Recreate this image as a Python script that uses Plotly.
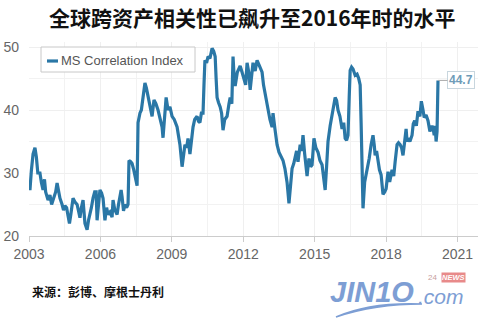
import plotly.graph_objects as go

# MS Correlation Index
years = [2003.00, 2003.04, 2003.10, 2003.17, 2003.25, 2003.31, 2003.37, 2003.46, 2003.52, 2003.59,
         2003.65, 2003.70, 2003.80, 2003.88, 2003.95, 2004.05, 2004.12, 2004.18, 2004.22, 2004.30,
         2004.39, 2004.45, 2004.51, 2004.58, 2004.64, 2004.70, 2004.76, 2004.85, 2004.93, 2005.02,
         2005.08, 2005.14, 2005.20, 2005.27, 2005.35, 2005.44, 2005.50, 2005.56, 2005.62, 2005.69,
         2005.76, 2005.82, 2005.86, 2005.92, 2005.98, 2006.05, 2006.11, 2006.19, 2006.26, 2006.32,
         2006.40, 2006.49, 2006.53, 2006.60, 2006.70, 2006.76, 2006.82, 2006.87, 2006.91, 2006.97,
         2007.03, 2007.10, 2007.16, 2007.20, 2007.27, 2007.33, 2007.40, 2007.45, 2007.54, 2007.58,
         2007.62, 2007.66, 2007.72, 2007.79, 2007.87, 2007.93, 2008.00, 2008.08, 2008.17, 2008.25,
         2008.33, 2008.42, 2008.50, 2008.59, 2008.63, 2008.70, 2008.76, 2008.84, 2008.92, 2009.01,
         2009.10, 2009.22, 2009.34, 2009.43, 2009.50, 2009.55, 2009.62, 2009.68, 2009.76, 2009.82,
         2009.89, 2009.96, 2010.06, 2010.12, 2010.18, 2010.24, 2010.31, 2010.35, 2010.39, 2010.46,
         2010.52, 2010.60, 2010.69, 2010.76, 2010.82, 2010.86, 2010.90, 2010.96, 2011.03, 2011.09,
         2011.15, 2011.22, 2011.32, 2011.40, 2011.45, 2011.52, 2011.57, 2011.62, 2011.66, 2011.75,
         2011.87, 2011.95, 2012.03, 2012.10, 2012.16, 2012.23, 2012.29, 2012.35, 2012.41, 2012.50,
         2012.58, 2012.68, 2012.79, 2012.85, 2012.92, 2013.00, 2013.04, 2013.12, 2013.21, 2013.25,
         2013.33, 2013.42, 2013.50, 2013.58, 2013.67, 2013.75, 2013.84, 2013.92, 2013.97, 2014.05,
         2014.12, 2014.18, 2014.24, 2014.30, 2014.39, 2014.45, 2014.51, 2014.58, 2014.68, 2014.72,
         2014.76, 2014.83, 2014.89, 2014.97, 2015.05, 2015.14, 2015.22, 2015.31, 2015.38, 2015.44,
         2015.50, 2015.56, 2015.65, 2015.73, 2015.80, 2015.86, 2015.92, 2015.98, 2016.06, 2016.15,
         2016.22, 2016.28, 2016.34, 2016.40, 2016.45, 2016.49, 2016.55, 2016.61, 2016.70, 2016.78,
         2016.85, 2016.91, 2016.95, 2016.99, 2017.03, 2017.10, 2017.20, 2017.29, 2017.37, 2017.45,
         2017.50, 2017.54, 2017.60, 2017.66, 2017.72, 2017.79, 2017.87, 2017.94, 2018.00, 2018.08,
         2018.15, 2018.25, 2018.32, 2018.38, 2018.46, 2018.52, 2018.59, 2018.65, 2018.71, 2018.78,
         2018.84, 2018.88, 2018.92, 2019.00, 2019.09, 2019.14, 2019.20, 2019.27, 2019.34, 2019.42,
         2019.48, 2019.55, 2019.60, 2019.68, 2019.76, 2019.84, 2019.93, 2019.98, 2020.02, 2020.06,
         2020.10, 2020.14, 2020.18]
values = [28.4, 27.3, 30.4, 33.0, 34.0, 32.5, 30.0, 30.0, 28.5, 27.3,
          29.0, 27.0, 25.7, 26.5, 25.0, 26.2, 27.0, 28.4, 27.5, 26.0,
          25.0, 24.1, 24.8, 24.5, 23.2, 22.0, 23.5, 26.0, 25.4, 25.0,
          24.0, 22.9, 24.5, 25.7, 22.0, 21.0, 22.5, 23.4, 24.5, 26.0,
          27.0, 27.0, 22.5, 25.0, 27.3, 26.8, 26.0, 22.5, 24.5, 23.4,
          23.8, 23.0, 25.7, 24.2, 23.4, 25.0, 26.0, 27.3, 26.2, 24.0,
          25.0, 24.5, 25.0, 32.0, 31.8, 31.5, 30.5, 29.5, 28.0, 38.0,
          39.0, 39.5, 40.0, 42.5, 44.3, 43.5, 42.0, 40.5, 39.0, 41.6,
          41.0, 40.0, 38.8, 37.3, 35.6, 38.5, 42.0, 40.0, 40.5, 39.0,
          38.5, 37.3, 34.5, 31.0, 33.0, 34.5, 34.0, 35.5, 33.0, 35.5,
          37.3, 38.5, 39.0, 38.2, 38.0, 39.5, 39.5, 44.0, 47.9, 47.5,
          48.5, 48.2, 49.8, 49.3, 48.5, 45.0, 42.0, 41.2, 40.5, 39.5,
          36.8, 38.5, 39.0, 41.0, 42.0, 41.0, 48.5, 45.0, 43.8, 46.0,
          47.0, 46.0, 45.0, 44.0, 47.5, 46.0, 43.2, 45.5, 47.5, 46.2,
          47.9, 47.0, 46.0, 44.0, 42.5, 41.0, 40.0, 38.5, 37.3, 39.5,
          37.0, 34.5, 33.3, 32.6, 32.0, 30.7, 28.5, 25.2, 27.5, 30.7,
          31.5, 32.8, 33.5, 31.8, 34.5, 33.5, 36.0, 33.0, 29.5, 31.0,
          32.3, 31.0, 31.3, 35.5, 34.0, 33.3, 32.0, 31.3, 29.5, 27.3,
          31.0, 35.0, 37.5, 39.5, 41.0, 42.0, 41.5, 40.0, 39.0, 37.0,
          38.0, 35.5, 35.2, 36.0, 42.0, 46.3, 46.8, 46.5, 45.5, 45.7,
          45.0, 44.0, 38.0, 31.8, 24.4, 28.6, 30.5, 32.3, 34.5, 36.0,
          34.5, 32.8, 33.5, 31.8, 30.5, 29.7, 26.6, 27.0, 27.5, 30.2,
          28.6, 30.5, 29.5, 31.8, 34.5, 34.8, 34.5, 34.0, 32.8, 35.0,
          37.0, 35.0, 35.5, 35.0, 36.0, 37.8, 38.3, 37.5, 39.8, 39.0,
          41.4, 40.0, 38.8, 39.2, 38.3, 36.6, 37.5, 37.0, 36.0, 37.5,
          35.0, 36.6, 44.7]

series_name = "MS Correlation Index"
x_tickvals = [2003, 2006, 2009, 2012, 2015, 2018, 2021]
x_ticktext = ["2003", "2006", "2009", "2012", "2015", "2018", "2021"]
y_tickvals = [20, 30, 40, 50]

line_color = "#2a77a6"
fig = go.Figure()
fig.add_trace(go.Scatter(x=years, y=values, mode="lines", name=series_name,
                         line=dict(color=line_color, width=3.2), showlegend=False))

fig.update_layout(
    width=499, height=324,
    margin=dict(l=29, r=21, t=42, b=88),
    paper_bgcolor="white", plot_bgcolor="white",
    font=dict(family="Liberation Sans, Arial"),
)
fig.update_xaxes(range=[2003, 2021.86], tickvals=x_tickvals, ticktext=x_ticktext,
                 automargin=False,
                 showgrid=True, gridcolor="#efefef", gridwidth=1,
                 minor=dict(dtick=1.5, tick0=2003, showgrid=True, gridcolor="#f2f2f2"),
                 showline=True, linecolor="#cccccc", linewidth=1,
                 ticks="outside", ticklen=5, tickcolor="#cccccc",
                 tickfont=dict(size=14, color="#666666"), zeroline=False)
fig.update_yaxes(range=[20, 50.8], tickvals=y_tickvals, automargin=False,
                 showgrid=True, gridcolor="#efefef", gridwidth=1,
                 minor=dict(dtick=5, tick0=20, showgrid=True, gridcolor="#f2f2f2"),
                 showline=False, ticks="", ticklabelstandoff=9,
                 tickfont=dict(size=14, color="#666666"), zeroline=False)


def px(xp):
    return (xp - 29) / 449


def py(yp):
    return (236 - yp) / 194


# manual legend box
fig.add_shape(type="rect", xref="paper", yref="paper", x0=px(41), x1=px(195), y0=py(72), y1=py(47),
              line=dict(color="#c8c8c8", width=1), fillcolor="white")
fig.add_shape(type="line", xref="paper", yref="paper", x0=px(47), x1=px(58), y0=py(61), y1=py(61),
              line=dict(color=line_color, width=3.2))
fig.add_annotation(xref="paper", yref="paper", x=px(59), y=py(60), text=series_name,
                   showarrow=False, xanchor="left", yanchor="middle",
                   font=dict(family="Liberation Sans, Arial", size=13, color="#555555"))

# last value label
fig.add_annotation(x=years[-1], y=values[-1], text="<b>44.7</b>", showarrow=True,
                   arrowhead=0, arrowcolor="#aaaaaa", arrowwidth=1, ax=23, ay=0,
                   font=dict(size=12, color="#6f9cb8"), bordercolor="#c8d6de",
                   borderwidth=1, borderpad=1, bgcolor="white")

# title
fig.add_annotation(xref="paper", yref="paper", x=px(252), y=py(17),
                   text="<b>全球跨资产相关性已飙升至2016年时的水平</b>", showarrow=False,
                   xanchor="center", yanchor="middle",
                   font=dict(family="Noto Sans CJK SC", size=21, color="#111111"))
# source
fig.add_annotation(xref="paper", yref="paper", x=px(30), y=py(291),
                   text="<b>来源：彭博、摩根士丹利</b>", showarrow=False,
                   xanchor="left", yanchor="middle",
                   font=dict(family="Noto Sans CJK SC", size=12, color="#111111"))
# logo
fig.add_annotation(xref="paper", yref="paper", x=px(328), y=py(292),
                   text="<b><i>JIN1O</i></b>", showarrow=False, xanchor="left", yanchor="middle",
                   font=dict(family="Liberation Sans", size=29, color="#7d9ed4"))
fig.add_annotation(xref="paper", yref="paper", x=px(416), y=py(296),
                   text="<i>.com</i>", showarrow=False, xanchor="left", yanchor="middle",
                   font=dict(family="Liberation Sans", size=21, color="#7d9ed4"))
fig.add_annotation(xref="paper", yref="paper", x=px(426), y=py(277),
                   text="24", showarrow=False, xanchor="left", yanchor="middle",
                   font=dict(family="Liberation Sans", size=8, color="#c8a0a0"))
fig.add_annotation(xref="paper", yref="paper", x=px(441), y=py(277),
                   text="<b><i>NEWS</i></b>", showarrow=False, xanchor="left", yanchor="middle",
                   bgcolor="#e88a8a", borderpad=0,
                   font=dict(family="Liberation Sans", size=7.5, color="white"))

fig.add_shape(type="path", xref="paper", yref="paper",
              path=f"M {px(336)},{py(317)} Q {px(370)},{py(302)} {px(422)},{py(304)} "
                   f"Q {px(375)},{py(304)} {px(336)},{py(317)} Z",
              line=dict(color="#7d9ed4", width=1.5), fillcolor="#7d9ed4")

fig.write_html("out.html")
